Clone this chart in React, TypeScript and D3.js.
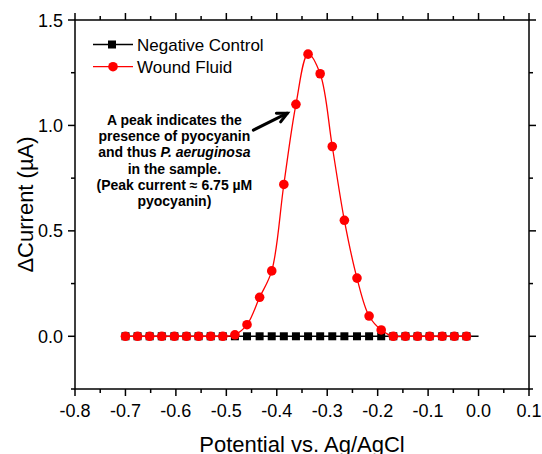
import React from "react";
import * as d3 from "d3";

// potential (V vs Ag/AgCl) at each measured point
const potentials = [
  -0.7, -0.676, -0.652, -0.628, -0.603, -0.579, -0.555, -0.531, -0.507, -0.483,
  -0.459, -0.434, -0.41, -0.386, -0.362, -0.338, -0.314, -0.29, -0.266, -0.241,
  -0.217, -0.193, -0.169, -0.145, -0.121, -0.097, -0.072, -0.048, -0.024,
];
const controlCurrent = [
  0, 0, 0, 0, 0, 0, 0, 0, 0, 0, 0, 0, 0, 0, 0, 0, 0, 0, 0, 0, 0, 0, 0, 0, 0, 0, 0, 0, 0,
];
const woundCurrent = [
  0, 0, 0, 0, 0, 0, 0, 0, 0, 0.007, 0.055, 0.185, 0.31, 0.72, 1.1, 1.338, 1.245, 0.9,
  0.55, 0.276, 0.096, 0.03, 0, 0, 0, 0, 0, 0, 0,
];
const controlLineEnd = 0.0;

const xTicks = [-0.8, -0.7, -0.6, -0.5, -0.4, -0.3, -0.2, -0.1, 0.0, 0.1];
const xMinor = [-0.75, -0.65, -0.55, -0.45, -0.35, -0.25, -0.15, -0.05, 0.05];
const yTicks = [0.0, 0.5, 1.0, 1.5];
const yMinor = [-0.25, 0.25, 0.75, 1.25];

const noteLines = [
  "A peak indicates the",
  "presence of pyocyanin",
  "and thus |P. aeruginosa",
  "in the sample.",
  "(Peak current \u2248 6.75 \u00b5M",
  "pyocyanin)",
];
// arrow from the note to the peak, in data units
const arrowFrom = [-0.4464, 0.978];
const arrowTo = [-0.379, 1.058];

const W = 542;
const H = 454;
const left = 75;
const right = 529;
const top = 20;
const bottom = 389;
const font = "Arial, 'Liberation Sans', sans-serif";

export default function App() {
  const x = d3.scaleLinear().domain([-0.8, 0.1]).range([left, right]);
  const y = d3.scaleLinear().domain([-0.25, 1.5]).range([bottom, top]);

  const line = d3
    .line<[number, number]>()
    .x((d) => x(d[0]))
    .y((d) => y(d[1]));
  const spline = line.curve(d3.curveCatmullRom.alpha(0.5));
  const straight = d3
    .line<[number, number]>()
    .x((d) => x(d[0]))
    .y((d) => y(d[1]));

  const control: [number, number][] = potentials.map((p, i) => [p, controlCurrent[i]]);
  const wound: [number, number][] = potentials.map((p, i) => [p, woundCurrent[i]]);
  const controlLine = [...control, [controlLineEnd, 0] as [number, number]];

  const major = 7;
  const minor = 4;

  // arrow head
  const ax1 = x(arrowFrom[0]);
  const ay1 = y(arrowFrom[1]);
  const ax2 = x(arrowTo[0]);
  const ay2 = y(arrowTo[1]);
  const ang = Math.atan2(ay2 - ay1, ax2 - ax1);
  const headLen = 11;
  const h1 = [ax2 - headLen * Math.cos(ang - 0.45), ay2 - headLen * Math.sin(ang - 0.45)];
  const h2 = [ax2 - headLen * Math.cos(ang + 0.45), ay2 - headLen * Math.sin(ang + 0.45)];

  const noteX = x(-0.603);
  const noteY0 = 125;

  return (
    <svg width={W} height={H} style={{ position: "absolute", left: 0, top: 0 }} fontFamily={font}>
      <rect width={W} height={H} fill="white" />

      {/* ticks */}
      <g stroke="black" strokeWidth={1.5}>
        {xTicks.map((t) => (
          <g key={"xt" + t}>
            <line x1={x(t)} x2={x(t)} y1={bottom} y2={bottom + major} />
            <line x1={x(t)} x2={x(t)} y1={top} y2={top - major} />
          </g>
        ))}
        {xMinor.map((t) => (
          <g key={"xm" + t}>
            <line x1={x(t)} x2={x(t)} y1={bottom} y2={bottom + minor} />
            <line x1={x(t)} x2={x(t)} y1={top} y2={top - minor} />
          </g>
        ))}
        {yTicks.map((t) => (
          <g key={"yt" + t}>
            <line x1={left} x2={left - major} y1={y(t)} y2={y(t)} />
            <line x1={right} x2={right + major} y1={y(t)} y2={y(t)} />
          </g>
        ))}
        {yMinor.map((t) => (
          <g key={"ym" + t}>
            <line x1={left} x2={left - minor} y1={y(t)} y2={y(t)} />
            <line x1={right} x2={right + minor} y1={y(t)} y2={y(t)} />
          </g>
        ))}
      </g>
      <rect x={left} y={top} width={right - left} height={bottom - top} fill="none" stroke="black" strokeWidth={1.5} />

      {/* tick labels */}
      <g fontSize={18} fill="black">
        {xTicks.map((t) => (
          <text key={"xl" + t} x={x(t)} y={417} textAnchor="middle">
            {t.toFixed(1)}
          </text>
        ))}
        {yTicks.map((t) => (
          <text key={"yl" + t} x={63} y={y(t) + 6.5} textAnchor="end">
            {t.toFixed(1)}
          </text>
        ))}
      </g>

      {/* axis titles */}
      <text x={(left + right) / 2} y={452} fontSize={22} textAnchor="middle">
        Potential vs. Ag/AgCl
      </text>
      <text transform={`translate(33,${(top + bottom) / 2}) rotate(-90)`} fontSize={22} textAnchor="middle">
        {"\u0394Current (\u00b5A)"}
      </text>

      {/* series */}
      <path d={straight(controlLine) || ""} fill="none" stroke="black" strokeWidth={1.5} />
      {control.map((d, i) => (
        <rect key={"c" + i} x={x(d[0]) - 4} y={y(d[1]) - 4} width={8} height={8} fill="black" />
      ))}
      <path d={spline(wound) || ""} fill="none" stroke="#ff0000" strokeWidth={1.3} />
      {wound.map((d, i) => (
        <circle key={"w" + i} cx={x(d[0])} cy={y(d[1])} r={4.8} fill="#ff0000" />
      ))}

      {/* legend */}
      <g>
        <line x1={93} x2={133} y1={44.5} y2={44.5} stroke="black" strokeWidth={1.5} />
        <rect x={108} y={40.5} width={8} height={8} fill="black" />
        <text x={137} y={50.5} fontSize={17}>
          Negative Control
        </text>
        <line x1={93} x2={133} y1={66.7} y2={66.7} stroke="#ff0000" strokeWidth={1.3} />
        <circle cx={113} cy={66.7} r={4.8} fill="#ff0000" />
        <text x={137} y={72.7} fontSize={17}>
          Wound Fluid
        </text>
      </g>

      {/* annotation */}
      <g fontSize={14} fontWeight="bold" textAnchor="middle">
        {noteLines.map((l, i) => {
          const [a, b] = l.split("|");
          return (
            <text key={"n" + i} x={noteX} y={noteY0 + i * 16.2}>
              {a}
              {b !== undefined && <tspan fontStyle="italic">{b}</tspan>}
            </text>
          );
        })}
      </g>
      <g stroke="black" strokeWidth={3} fill="none" strokeLinecap="round">
        <line x1={ax1} y1={ay1} x2={ax2} y2={ay2} />
        <polyline points={`${h1[0]},${h1[1]} ${ax2},${ay2} ${h2[0]},${h2[1]}`} />
      </g>
    </svg>
  );
}
